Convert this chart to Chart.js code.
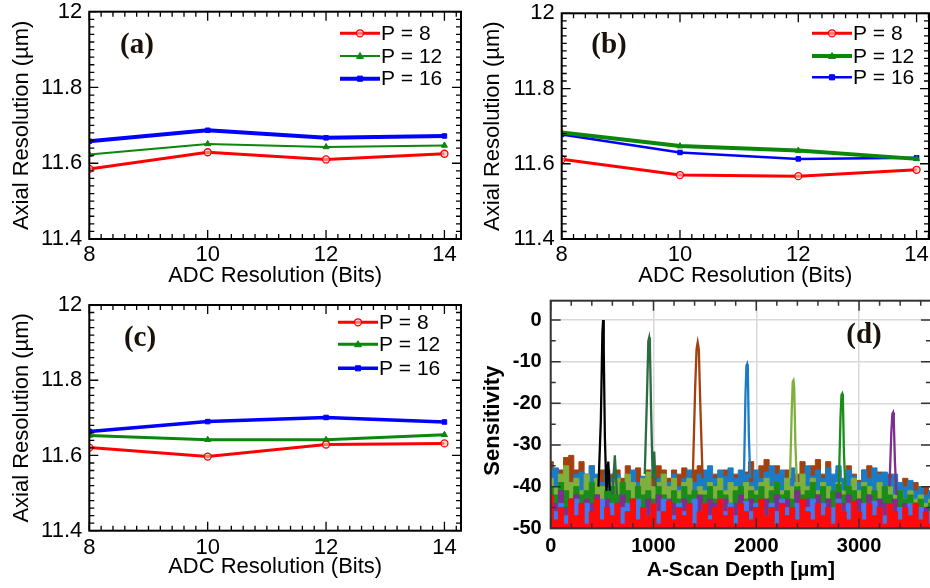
<!DOCTYPE html>
<html><head><meta charset="utf-8">
<script src="https://cdn.jsdelivr.net/npm/chart.js@4/dist/chart.umd.min.js"></script>
<style>
html,body{margin:0;padding:0;background:#fff;overflow:hidden;width:930px;height:588px}
canvas{position:absolute;left:0;top:0}
</style></head>
<body>
<canvas id="ca" width="940" height="588"></canvas>
<canvas id="cb" width="940" height="588"></canvas>
<canvas id="cc" width="940" height="588"></canvas>
<canvas id="cd" width="940" height="588"></canvas>
<script>
// ---------- data: panels (a)-(c) ----------
const bits = [8, 10, 12, 14];
const bitsTicks = [8, 10, 12, 14];
const resTicks = [11.4, 11.6, 11.8, 12];
const seriesNames = ['P = 8', 'P = 12', 'P = 16'];
const aP8  = [11.585, 11.629, 11.610, 11.625];
const aP12 = [11.623, 11.651, 11.643, 11.647];
const aP16 = [11.658, 11.687, 11.667, 11.672];
const bP8  = [11.612, 11.570, 11.567, 11.584];
const bP12 = [11.683, 11.647, 11.635, 11.613];
const bP16 = [11.678, 11.630, 11.613, 11.616];
const cP8  = [11.621, 11.597, 11.629, 11.632];
const cP12 = [11.653, 11.642, 11.642, 11.655];
const cP16 = [11.664, 11.690, 11.701, 11.689];

// ---------- data: panel (d) ----------
const depthTicks = [0, 1000, 2000, 3000];
const sensTicks = [-50, -40, -30, -20, -10, 0];
const depthUm = [0,50,100,150,200,250,300,350,400,450,500,550,600,650,700,
 750,800,850,900,950,1000,1050,1100,1150,1200,1250,1300,1350,1400,1450,
 1500,1550,1600,1650,1700,1750,1800,1850,1900,1950,2000,2050,2100,2150,2200,
 2250,2300,2350,2400,2450,2500,2550,2600,2650,2700,2750,2800,2850,2900,2950,
 3000,3050,3100,3150,3200,3250,3300,3350,3400,3450,3500,3550,3600,3650,3700];
const noiseBrown = [-34,-37,-36,-33,-32.5,-36,-34,-37,-35,-38,-36,-39,-37,-36,-38,
 -35,-37,-35.5,-38,-36,-37.5,-35,-36,-38,-36,-37,-35.5,-38,-36,-35,
 -37,-39,-37,-38.5,-36,-39,-37,-38,-36.5,-34,-38,-35,-33.5,-37,-35,
 -38,-36,-39,-37,-34,-38,-35,-33.5,-37,-34,-38,-36,-39,-35,-37,
 -38.5,-36,-35,-38,-36.5,-39,-37,-38,-39.5,-38,-40,-39,-41,-40,-42];
const noiseSteel = [-36,-35.5,-38,-36,-39,-37,-36.5,-38,-35,-37,-39,-36,-38,-37,-40,
 -38,-36,-39,-37.5,-38,-40,-38,-37,-39,-37,-40,-38,-36,-39,-37,
 -36,-35,-38,-36,-37.5,-35.5,-38,-36,-37,-39,-36,-38,-36.5,-35,-37,
 -36,-38,-35.5,-39,-37,-35,-37.5,-36,-38,-35.5,-37,-35,-38,-36,-37.5,
 -39,-36,-38,-35.5,-37,-36.5,-38,-37,-39,-40,-38.5,-41,-40,-42,-41];
const noiseLime = [-38,-40,-37,-35,-39,-38,-41,-37,-39,-38,-40,-42,-39,-38,-40,
 -37,-39,-41,-38,-36.5,-40,-39,-37,-40,-38,-41,-39,-38,-42,-40,
 -41,-39,-40,-38,-41,-39,-40,-42,-39,-40,-41,-39,-38,-40,-39,
 -41,-38,-40,-39,-37,-40,-38,-41,-39,-40,-42,-39,-41,-40,-38,
 -41,-39,-40,-42,-39,-41,-40,-42,-41,-43,-41,-43,-42,-44,-43];
const noiseGreen = [-40,-42,-39,-41,-43,-40,-42,-41,-39,-42,-44,-41,-40,-42,-39,
 -41,-43,-40,-42,-41,-43,-40,-42,-44,-41,-43,-40,-42,-41,-43,
 -42,-40,-43,-41,-42,-44,-41,-40,-43,-41,-42,-40,-43,-41,-39,
 -42,-41,-43,-40,-42,-41,-39,-42,-40,-43,-41,-39.5,-42,-40,-41,
 -43,-40,-42,-41,-43,-40,-42,-44,-41,-43,-42,-44,-43,-45,-44];
const noisePurple = [-42,-44,-41,-45,-43,-42,-45,-43,-44,-42,-45,-43,-46,-44,-42,
 -45,-43,-44,-46,-43,-44,-42,-45,-43,-44,-46,-43,-45,-44,-42,
 -45,-43,-44,-46,-43,-45,-44,-42,-45,-43,-44,-46,-43,-45,-42,
 -44,-43,-45,-41,-44,-43,-45,-42,-44,-43,-45,-41.5,-44,-42,-45,
 -43,-44,-42,-45,-43,-44,-46,-43,-45,-44,-46,-44,-46,-45,-47];
const noiseRoyal = [-43,-46,-44,-47,-45,-43,-46,-44,-47,-45,-43,-46,-44,-47,-45,
 -44,-46,-43,-45,-47,-44,-46,-43,-45,-47,-44,-46,-45,-43,-46,
 -44,-47,-45,-43,-46,-44,-47,-45,-43.5,-46,-44,-45,-47,-44,-46,
 -43,-45,-47,-44,-46,-45,-43,-46,-44,-47,-45,-43,-46,-44,-45,
 -47,-44,-46,-43.5,-45,-47,-44,-46,-45,-47,-44,-46,-45,-47,-46];
const noiseRed = [-42,-48,-45,-49,-43,-47,-44,-49,-46,-43,-48,-45,-47,-44,-49,
 -46,-43,-48,-45,-47,-44,-49,-46,-43.5,-48,-45,-47,-44,-49,-46,
 -44,-48,-45,-43,-47,-45,-49,-44,-46,-48,-45,-43,-47,-45,-49,
 -44,-47,-45,-48,-43,-46,-48,-44,-47,-45,-49,-44,-46,-48,-43.5,
 -46,-48,-44,-47,-45,-49,-44,-46,-48,-45,-47,-44,-48,-46,-49];
// peak shapes [depth, level]
const peakBlack  = [[465,-40],[488,-24],[503,-3],[510,0],[516,-7],[527,-28],[542,-41],[560,-34],[575,-41]];
const peakDkGreen = [[600,-42],[624,-32.5],[645,-42],[null,null],[915,-37],[937,-18],[950,-5],[958,-4.2],[965,-6],[977,-22],[992,-38],[1007,-31.6],[1022,-40]];
const peakBrown  = [[1382,-38],[1406,-16],[1419,-7],[1430,-5.4],[1441,-7],[1455,-20],[1478,-38]];
const peakSteel  = [[1880,-38],[1895,-18],[1904,-11],[1911,-10.6],[1918,-12],[1928,-28],[1942,-38]];
const peakLime   = [[2328,-38],[2346,-21],[2355,-14.8],[2362,-14.5],[2369,-16],[2381,-30],[2396,-40]];
const peakGreen  = [[2803,-40],[2820,-23],[2829,-18],[2836,-17.7],[2843,-19],[2853,-32],[2868,-41]];
const peakPurple = [[3296,-40],[3314,-27],[3324,-22.5],[3331,-22.2],[3338,-24],[3349,-34],[3364,-42]];

// ---------- styling ----------
Chart.defaults.font.family = "'Liberation Sans', Arial, sans-serif";
Chart.defaults.color = '#000';
const W = 940, H = 588;
const RED = '#ff0000', GRN = '#0b870b', BLU = '#0000ff';
const setTicks = (vals) => (s) => { s.ticks = vals.map(v => ({value: v})); };

const framePlugin = {
  id: 'frame',
  afterDraw(chart, args, o) {
    const ctx = chart.ctx, a = chart.chartArea;
    const xs = chart.scales.x, ys = chart.scales.y;
    ctx.save();
    ctx.strokeStyle = o.color; ctx.lineWidth = o.tickWidth;
    let k = 0;
    while (true) {
      const v = xs.min + k * o.xMinor; k++;
      if (v > xs.max + 1e-9) break;
      const px = xs.getPixelForValue(v);
      const r = v / o.xMajor;
      const len = Math.abs(r - Math.round(r)) < 1e-6 ? o.majorLen : o.minorLen;
      ctx.beginPath();
      ctx.moveTo(px, a.bottom); ctx.lineTo(px, a.bottom - len);
      ctx.moveTo(px, a.top); ctx.lineTo(px, a.top + len);
      ctx.stroke();
    }
    k = 0;
    while (true) {
      const v = ys.min + k * o.yMinor; k++;
      if (v > ys.max + 1e-9) break;
      const py = ys.getPixelForValue(v);
      const r = v / o.yMajor;
      const len = Math.abs(r - Math.round(r)) < 1e-6 ? o.majorLen : o.minorLen;
      ctx.beginPath();
      ctx.moveTo(a.left, py); ctx.lineTo(a.left + len, py);
      ctx.moveTo(a.right, py); ctx.lineTo(a.right - len, py);
      ctx.stroke();
    }
    ctx.lineWidth = o.frameWidth;
    ctx.strokeRect(a.left, a.top, a.right - a.left, a.bottom - a.top);
    if (o.legend) {
      const L = o.legend;
      chart.data.datasets.forEach((ds, i) => {
        const y = L.rows[i];
        ctx.strokeStyle = ds.borderColor; ctx.lineWidth = ds.borderWidth;
        ctx.beginPath(); ctx.moveTo(L.x0, y); ctx.lineTo(L.x1, y); ctx.stroke();
        const mx = (L.x0 + L.x1) / 2, r = ds.pointRadius;
        ctx.lineWidth = ds.pointBorderWidth || 1;
        ctx.fillStyle = ds.pointBackgroundColor;
        ctx.strokeStyle = ds.borderColor;
        ctx.beginPath();
        if (ds.pointStyle === 'circle') ctx.arc(mx, y, r, 0, Math.PI * 2);
        else if (ds.pointStyle === 'triangle') { ctx.moveTo(mx, y - r); ctx.lineTo(mx + r, y + r * 0.7); ctx.lineTo(mx - r, y + r * 0.7); ctx.closePath(); }
        else ctx.rect(mx - r * 0.8, y - r * 0.8, r * 1.6, r * 1.6);
        ctx.fill(); ctx.stroke();
        ctx.fillStyle = '#000';
        ctx.font = L.font; ctx.textBaseline = 'middle'; ctx.textAlign = 'left';
        ctx.fillText(ds.label, L.tx, y + 1);
      });
    }
    if (o.tag) {
      ctx.fillStyle = '#1a1208';
      ctx.font = "bold 29px 'Liberation Serif', 'Times New Roman', serif";
      ctx.textAlign = 'center'; ctx.textBaseline = 'middle';
      ctx.fillText(o.tag.text, o.tag.x, o.tag.y);
    }
    ctx.restore();
  }
};

function layoutFor(area, yTitleX, yLH, xTitleY, xLH) {
  const padLeft = yTitleX - yLH / 2;
  const xBottom = xTitleY + xLH / 2;
  return {
    padding: {left: padLeft, top: area.top, right: W - area.right, bottom: H - xBottom},
    yWidth: area.left - padLeft,
    xHeight: xBottom - area.bottom
  };
}

function adcPanel(id, tag, s8, s12, s16, lw, area, yTitleX, xTitleY, xTickPad, xMax, legend) {
  const L = layoutFor(area, yTitleX, 26.4, xTitleY, 26.4);
  const mk = (arr) => bits.map((b, i) => ({x: b, y: arr[i]}));
  new Chart(document.getElementById(id), {
    type: 'line',
    data: {datasets: [
      {label: seriesNames[0], data: mk(s8), borderColor: RED, borderWidth: lw[0], pointStyle: 'circle', pointRadius: 3.5, pointBorderWidth: 1.3, pointBackgroundColor: 'rgba(255,200,200,0.6)', pointBorderColor: RED, tension: 0},
      {label: seriesNames[1], data: mk(s12), borderColor: GRN, borderWidth: lw[1], pointStyle: 'triangle', pointRadius: 3.5, pointBorderWidth: 1, pointBackgroundColor: GRN, pointBorderColor: GRN, tension: 0},
      {label: seriesNames[2], data: mk(s16), borderColor: BLU, borderWidth: lw[2], pointStyle: 'rect', pointRadius: 3.2, pointBorderWidth: 1, pointBackgroundColor: BLU, pointBorderColor: BLU, tension: 0}
    ]},
    options: {
      responsive: false, animation: false, devicePixelRatio: 1,
      layout: {padding: L.padding},
      plugins: {legend: {display: false}, tooltip: {enabled: false},
        frame: {color: '#000', tickWidth: 1.3, frameWidth: 2, majorLen: 9, minorLen: 5,
          xMinor: 0.2, xMajor: 2, yMinor: 0.02, yMajor: 0.2, legend: legend, tag: tag}},
      scales: {
        x: {type: 'linear', min: 8, max: xMax,
          ticks: {padding: xTickPad, font: {size: 22}, color: '#000', maxRotation: 0, autoSkip: false,
            callback: v => String(v)},
          afterBuildTicks: setTicks(bitsTicks),
          grid: {display: false, drawTicks: false}, border: {display: false},
          title: {display: true, text: 'ADC Resolution (Bits)', font: {size: 22}, color: '#000', padding: 0},
          afterFit: s => { s.height = L.xHeight; s.paddingLeft = 0; s.paddingRight = 0; }},
        y: {type: 'linear', min: 11.4, max: 12,
          ticks: {padding: 7, font: {size: 22}, color: '#000', autoSkip: false,
            callback: v => String(+v.toFixed(1))},
          afterBuildTicks: setTicks(resTicks),
          grid: {display: false, drawTicks: false}, border: {display: false},
          title: {display: true, text: 'Axial Resolution (µm)', font: {size: 22}, color: '#000', padding: 0},
          afterFit: s => { s.width = L.yWidth; s.paddingTop = 0; s.paddingBottom = 0; }}
      }
    },
    plugins: [framePlugin]
  });
}

const legFont = "21px 'Liberation Sans', Arial, sans-serif";
adcPanel('ca', {text: '(a)', x: 137, y: 46}, aP8, aP12, aP16, [3, 2, 4],
  {left: 89.3, top: 11.7, right: 461, bottom: 239}, 21.7, 276, 3, 14.28,
  {x0: 340, x1: 380, tx: 381, rows: [33.3, 56, 78.7], font: legFont});
adcPanel('cb', {text: '(b)', x: 609, y: 46}, bP8, bP12, bP16, [3, 4, 2.5],
  {left: 561.7, top: 13.3, right: 929, bottom: 239}, 493.3, 276, 3, 14.21,
  {x0: 812, x1: 852, tx: 853, rows: [33.3, 56, 77.3], font: legFont});
adcPanel('cc', {text: '(c)', x: 140, y: 339}, cP8, cP12, cP16, [3, 3, 3.5],
  {left: 89.3, top: 305, right: 461, bottom: 530.7}, 21.7, 566.7, 4, 14.28,
  {x0: 338, x1: 378, tx: 379, rows: [322.3, 344.3, 368.3], font: legFont});

// ---------- panel (d) ----------
(function () {
  const area = {left: 550.7, top: 300.7, right: 931, bottom: 528.3};
  const L = layoutFor(area, 493, 26.4, 570, 25.2);
  const noise = (arr, color, order) => ({data: depthUm.map((x, i) => ({x, y: arr[i]})),
    borderColor: color, backgroundColor: color, borderWidth: 1, pointRadius: 0, fill: 'start',
    stepped: 'middle', order});
  const peak = (arr, color, order) => ({data: arr.map(p => ({x: p[0], y: p[1]})),
    borderColor: color, borderWidth: 2.3, pointRadius: 0, fill: false, tension: 0, spanGaps: false, order});
  new Chart(document.getElementById('cd'), {
    type: 'line',
    data: {datasets: [
      noise(noiseBrown, '#a3400d', 20),
      noise(noiseSteel, '#1b7bc6', 19),
      noise(noiseLime, '#7fb03c', 18),
      noise(noiseGreen, '#1a8c1a', 17),
      noise(noisePurple, '#7c2f8e', 16),
      noise(noiseRoyal, '#3f7af5', 15),
      noise(noiseRed, '#ff0a0a', 14),
      peak(peakBlack, '#000000', 7),
      peak(peakDkGreen, '#2a6b42', 6),
      peak(peakBrown, '#a3400d', 5),
      peak(peakSteel, '#1b7bc6', 4),
      peak(peakLime, '#7fb03c', 3),
      peak(peakGreen, '#1a8c1a', 2),
      peak(peakPurple, '#7c2f8e', 1)
    ]},
    options: {
      responsive: false, animation: false, devicePixelRatio: 1,
      layout: {padding: L.padding},
      plugins: {legend: {display: false}, tooltip: {enabled: false},
        frame: {color: '#333', tickWidth: 1.5, frameWidth: 2, majorLen: 10, minorLen: 5,
          xMinor: 200, xMajor: 1000, yMinor: 5, yMajor: 10, tag: {text: '(d)', x: 864, y: 336}}},
      scales: {
        x: {type: 'linear', min: 0, max: 3700,
          ticks: {padding: 6.4, font: {size: 20, weight: 'bold'}, color: '#000', maxRotation: 0, autoSkip: false,
            callback: v => String(v)},
          afterBuildTicks: setTicks(depthTicks),
          grid: {display: true, drawOnChartArea: true, drawTicks: false, color: '#d8d8d8', lineWidth: 1.5}, border: {display: false},
          title: {display: true, text: 'A-Scan Depth [µm]', font: {size: 21, weight: 'bold'}, color: '#000', padding: 0},
          afterFit: s => { s.height = L.xHeight; s.paddingLeft = 0; s.paddingRight = 0; }},
        y: {type: 'linear', min: -50, max: 4.63,
          ticks: {padding: 9, font: {size: 20, weight: 'bold'}, color: '#000', autoSkip: false,
            callback: v => String(v)},
          afterBuildTicks: setTicks(sensTicks),
          grid: {display: true, drawOnChartArea: true, drawTicks: false, color: '#d8d8d8', lineWidth: 1.5}, border: {display: false},
          title: {display: true, text: 'Sensitivity  ', font: {size: 22, weight: 'bold'}, color: '#000', padding: 0},
          afterFit: s => { s.width = L.yWidth; s.paddingTop = 0; s.paddingBottom = 0; }}
      }
    },
    plugins: [framePlugin]
  });
})();
</script>
</body></html>
